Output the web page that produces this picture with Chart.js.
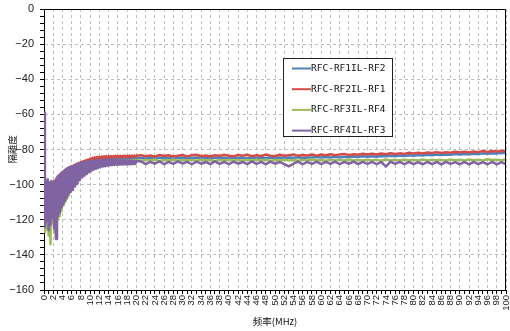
<!DOCTYPE html>
<html>
<head>
<meta charset="utf-8">
<script src="https://cdn.jsdelivr.net/npm/chart.js@4.4.0/dist/chart.umd.min.js"></script>
<style>
  body { margin: 0; background: #fff; }
</style>
</head>
<body>
<canvas id="graph" width="510" height="331"></canvas>
<script>
// frequency points (MHz), dense at the low end
const freq = [
  0, 0.2, 0.4, 0.6, 0.8, 1, 1.2, 1.4, 1.6, 1.8, 2, 2.2, 2.4, 2.6, 2.8, 3, 3.2, 3.4, 3.6, 3.8,
  4, 4.2, 4.4, 4.6, 4.8, 5, 5.2, 5.4, 5.6, 5.8, 6,
  6.25, 6.5, 6.75, 7, 7.25, 7.5, 7.75, 8, 8.25, 8.5, 8.75, 9, 9.25, 9.5, 9.75, 10,
  10.25, 10.5, 10.75, 11, 11.25, 11.5, 11.75, 12, 12.25, 12.5, 12.75, 13,
  13.25, 13.5, 13.75, 14, 14.25, 14.5, 14.75, 15, 15.25, 15.5, 15.75, 16,
  16.25, 16.5, 16.75, 17, 17.25, 17.5, 17.75, 18, 18.25, 18.5, 18.75, 19, 19.25, 19.5, 19.75, 20,
  21, 22, 23, 24, 25, 26, 27, 28, 29, 30,
  31, 32, 33, 34, 35, 36, 37, 38, 39, 40,
  41, 42, 43, 44, 45, 46, 47, 48, 49, 50,
  51, 52, 53, 54, 55, 56, 57, 58, 59, 60,
  61, 62, 63, 64, 65, 66, 67, 68, 69, 70,
  71, 72, 73, 74, 75, 76, 77, 78, 79, 80,
  81, 82, 83, 84, 85, 86, 87, 88, 89, 90,
  91, 92, 93, 94, 95, 96, 97, 98, 99, 100
];

// RFC-RF1IL-RF2
const rf1 = [
  -105, -118, -101, -116, -103, -120, -100, -117, -102, -114, -100, -112, -99, -110, -98, -107, -96, -104, -95, -101,
  -93, -99, -92, -97, -91, -95, -90.5, -93.5, -90, -92.5, -89.5,
  -92, -90, -91, -89.2, -90, -88.6, -89.2, -88.0, -88.6, -87.5, -88.0, -87.1, -87.5, -86.7, -87.1, -86.4,
  -86.8, -86.1, -86.5, -85.9, -86.3, -85.7, -86.1, -85.6, -85.9, -85.5, -85.8, -85.4,
  -85.7, -85.3, -85.7, -85.3, -85.6, -85.2, -85.6, -85.2, -85.5, -85.1, -85.5, -85.1,
  -85.4, -85.0, -85.4, -85.0, -85.4, -85.0, -85.3, -84.9, -85.3, -84.9, -85.3, -84.9, -85.2, -84.8, -85.2, -84.8,
  -84.7, -85.1, -84.8, -85.2, -84.6, -85.0, -84.7, -85.2, -84.8, -84.6,
  -85.1, -84.8, -84.6, -85.0, -84.7, -85.1, -84.6, -84.9, -84.7, -85.0,
  -84.6, -84.9, -84.7, -85.0, -84.6, -84.8, -84.5, -84.9, -84.6, -84.8,
  -84.5, -84.8, -84.5, -84.7, -84.4, -84.8, -84.5, -84.6, -84.3, -84.6,
  -84.3, -84.6, -84.2, -84.5, -84.1, -84.4, -84.0, -84.3, -83.9, -84.1,
  -83.8, -84.1, -83.7, -83.9, -83.5, -83.8, -83.4, -83.7, -83.3, -83.5,
  -83.2, -83.4, -83.0, -83.3, -82.9, -83.1, -82.8, -83.0, -82.6, -82.8,
  -82.5, -82.7, -82.4, -82.6, -82.2, -82.4, -82.1, -82.3, -81.9, -82.1
];

// RFC-RF2IL-RF1
const rf2 = [
  -127, -100, -112, -98.5, -110, -99, -115, -98.5, -109, -99, -113, -98, -108, -97, -106, -95.2, -103, -94.2, -100, -93.2,
  -98, -92.5, -96, -91.6, -95, -91, -93, -90.3, -92, -89.8, -91,
  -90.5, -88.8, -90, -88.2, -89.4, -87.6, -88.6, -87.1, -88.0, -86.6, -87.4, -86.1, -86.9, -85.7, -86.4, -85.2,
  -86.0, -84.8, -85.6, -84.5, -85.3, -84.3, -85.1, -84.1, -84.9, -84.0, -84.8, -83.9,
  -84.7, -83.8, -84.6, -83.8, -84.6, -83.7, -84.5, -83.7, -84.5, -83.6, -84.4, -83.7,
  -84.4, -83.6, -84.4, -83.6, -84.3, -83.5, -84.3, -83.6, -84.3, -83.5, -84.2, -83.5, -84.2, -83.4, -84.2, -83.5,
  -83.2, -83.9, -83.4, -84.1, -83.1, -83.7, -83.3, -84.0, -83.5, -83.1,
  -83.9, -83.3, -83.0, -83.8, -83.4, -84.0, -83.2, -83.7, -83.0, -83.6,
  -83.9, -83.1, -83.5, -83.0, -83.8, -83.3, -83.7, -82.9, -83.5, -83.8,
  -83.0, -83.6, -83.2, -82.8, -83.6, -83.1, -83.4, -82.8, -83.5, -82.9,
  -83.3, -82.7, -83.2, -82.9, -82.5, -83.2, -82.7, -83.0, -82.4, -82.9,
  -82.4, -82.9, -82.3, -82.7, -82.1, -82.6, -82.2, -82.5, -81.9, -82.3,
  -81.8, -82.3, -81.7, -82.0, -81.5, -82.0, -81.6, -81.9, -81.3, -81.7,
  -81.2, -81.7, -81.1, -81.5, -80.9, -81.4, -80.9, -81.2, -80.7, -81.0
];

// RFC-RF3IL-RF4
const rf3 = [
  -98, -127, -101, -125, -99, -129, -103, -134, -100, -122, -104, -127, -100, -130, -99, -120, -97, -118, -96, -115,
  -95, -112, -94, -110, -93.5, -108, -93, -106, -92.5, -104, -92,
  -101, -92, -99.5, -91, -98, -90.2, -96.5, -89.5, -95, -89, -94, -88.5, -93, -88.1, -92.2, -87.8,
  -91.4, -87.5, -90.8, -87.3, -90.3, -87.1, -89.8, -86.9, -89.4, -86.8, -89.0, -86.7,
  -88.7, -86.6, -88.4, -86.5, -88.1, -86.4, -87.8, -86.4, -87.6, -86.3, -87.4, -86.3,
  -87.2, -86.2, -87.1, -86.2, -87.0, -86.2, -86.9, -86.1, -86.8, -86.1, -86.7, -86.1, -86.6, -86.0, -86.6, -86.0,
  -86.4, -85.9, -86.3, -85.8, -86.5, -86.0, -86.2, -85.8, -86.4, -86.0,
  -86.3, -85.9, -86.4, -85.8, -86.2, -86.0, -86.5, -85.9, -86.3, -85.8,
  -86.2, -86.0, -86.4, -85.8, -86.3, -85.9, -86.2, -85.8, -86.4, -86.0,
  -86.3, -85.8, -86.2, -86.0, -86.4, -85.9, -86.3, -85.7, -86.2, -86.0,
  -86.4, -85.8, -86.2, -85.9, -86.3, -85.7, -86.2, -86.0, -86.3, -85.8,
  -86.2, -85.9, -86.4, -85.7, -86.2, -85.9, -86.3, -85.8, -86.1, -85.9,
  -86.3, -85.7, -86.2, -85.8, -86.1, -85.9, -86.3, -85.7, -86.1, -85.8,
  -86.2, -85.7, -86.1, -85.8, -86.2, -85.6, -86.0, -85.8, -86.1, -85.7
];

// RFC-RF4IL-RF3
const rf4 = [
  -59, -124, -98, -121, -97, -126, -99, -123, -98, -119, -99, -125, -98, -131, -96, -118, -94.8, -116, -94, -113,
  -93, -111, -92.2, -109, -91.4, -107, -90.8, -105, -90.2, -104, -89.6,
  -103, -89.2, -101, -88.6, -99.5, -88.0, -97.5, -87.6, -96, -87.3, -95, -87.0, -94, -86.8, -93, -86.5,
  -92.2, -86.4, -91.5, -86.3, -91, -86.2, -90.5, -86.1, -90.1, -86.1, -89.7, -86.0,
  -89.5, -86.0, -89.2, -86.0, -89.0, -86.0, -88.9, -86.0, -88.8, -86.1, -88.7, -86.0,
  -88.6, -86.1, -88.6, -86.1, -88.5, -86.2, -88.5, -86.2, -88.4, -86.3, -88.4, -86.3, -88.3, -86.4, -88.3, -86.5,
  -86.8, -88.3, -87.0, -88.1, -86.7, -88.4, -87.1, -88.2, -86.8, -88.0,
  -87.0, -88.4, -86.9, -88.1, -87.1, -88.3, -86.8, -88.2, -87.0, -88.4,
  -86.9, -88.1, -87.1, -88.3, -86.8, -88.2, -87.0, -88.4, -86.9, -88.1,
  -87.1, -88.3, -89.6, -88.1, -86.9, -88.4, -87.0, -88.2, -86.9, -88.3,
  -87.1, -88.2, -86.9, -88.4, -87.0, -88.1, -86.9, -88.3, -87.1, -88.2,
  -87.0, -88.4, -87.1, -89.7, -86.9, -88.2, -87.0, -88.4, -87.1, -88.3,
  -87.2, -88.4, -87.0, -88.3, -87.1, -88.5, -87.0, -88.2, -87.2, -88.4,
  -87.1, -88.5, -87.0, -88.3, -87.2, -88.4, -87.1, -88.5, -87.2, -88.3
];

const seriesNames = ['RFC-RF1IL-RF2', 'RFC-RF2IL-RF1', 'RFC-RF3IL-RF4', 'RFC-RF4IL-RF3'];
const yTitle = '隔離度';
const xTitle = '频率(MHz)';

function toPoints(vals) {
  return freq.map((f, i) => ({ x: f, y: vals[i] }));
}

// legend box drawn inside the plot, like the original
const boxLegend = {
  id: 'boxLegend',
  afterDraw(chart) {
    const ctx = chart.ctx;
    const area = chart.chartArea;
    const bx = 283, by = 58, bw = 109, bh = 78;
    ctx.save();
    // top and right border of the plot
    ctx.strokeStyle = '#000';
    ctx.lineWidth = 1;
    ctx.beginPath();
    ctx.moveTo(Math.round(area.left) + 0.5, Math.round(area.top) + 0.5);
    ctx.lineTo(Math.round(area.right) - 0.5, Math.round(area.top) + 0.5);
    ctx.lineTo(Math.round(area.right) - 0.5, Math.round(area.bottom));
    ctx.stroke();

    ctx.fillStyle = '#fff';
    ctx.fillRect(bx, by, bw, bh);
    ctx.strokeStyle = '#222';
    ctx.strokeRect(bx + 0.5, by + 0.5, bw, bh);
    ctx.font = '9.5px "DejaVu Sans Mono"';
    ctx.textBaseline = 'middle';
    ctx.textAlign = 'left';
    chart.data.datasets.forEach((ds, i) => {
      const y = by + 10.5 + i * 20.7;
      ctx.strokeStyle = ds.borderColor;
      ctx.lineWidth = 2;
      ctx.beginPath();
      ctx.moveTo(bx + 9, y);
      ctx.lineTo(bx + 28, y);
      ctx.stroke();
      ctx.fillStyle = '#111';
      ctx.fillText(ds.label, bx + 28, y);
    });
    ctx.restore();
  }
};

const ctx = document.getElementById('graph').getContext('2d');

const myChart = new Chart(ctx, {
  type: 'line',
  data: {
    datasets: [
      { label: seriesNames[0], data: toPoints(rf1), borderColor: '#4F81BD', order: 3 },
      { label: seriesNames[1], data: toPoints(rf2), borderColor: '#D24B47', order: 2 },
      { label: seriesNames[2], data: toPoints(rf3), borderColor: '#9BBB59', order: 1 },
      { label: seriesNames[3], data: toPoints(rf4), borderColor: '#8064A2', order: 0 }
    ]
  },
  options: {
    responsive: false,
    animation: false,
    layout: { padding: { top: 9, right: 4, left: 0, bottom: 0 } },
    elements: {
      point: { radius: 0 },
      line: { borderWidth: 2.5, tension: 0, fill: false, borderJoinStyle: 'round' }
    },
    plugins: {
      legend: { display: false },
      tooltip: { enabled: false }
    },
    scales: {
      x: {
        type: 'linear',
        min: 0,
        max: 100,
        afterFit: s => {
          s.height = 41;
          s.paddingLeft = 0;
          s.paddingRight = 0;
        },
        ticks: {
          stepSize: 1,
          autoSkip: false,
          minRotation: 90,
          maxRotation: 90,
          padding: 1,
          color: '#222',
          font: { family: 'Liberation Sans', size: 9.5 },
          callback: v => (v % 2 === 0 ? String(v) : '')
        },
        grid: {
          color: c => (c.tick && c.tick.value % 2 === 0 ? '#bdbdbd' : 'rgba(0,0,0,0)'),
          tickColor: '#000',
          tickLength: 4
        },
        border: { color: '#000', dash: [3, 3] },
        title: {
          display: true,
          text: xTitle,
          color: '#111',
          font: { family: 'Noto Sans CJK SC', size: 9.5 },
          padding: { top: 0, bottom: 4 }
        }
      },
      y: {
        min: -160,
        max: 0,
        afterFit: s => {
          s.width = 44;
          s.paddingTop = 0;
          s.paddingBottom = 0;
        },
        ticks: {
          stepSize: 4,
          autoSkip: false,
          padding: 6,
          color: '#222',
          font: { family: 'Liberation Sans', size: 11 },
          callback: v => (v % 20 === 0 ? (v < 0 ? '\u2212' + (-v) : String(v)) : '')
        },
        grid: {
          color: c => (c.tick && c.tick.value % 20 === 0 ? '#bdbdbd' : 'rgba(0,0,0,0)'),
          tickColor: '#000',
          tickLength: 4
        },
        border: { color: '#000', dash: [3, 3] },
        title: {
          display: true,
          text: yTitle,
          color: '#111',
          font: { family: 'Noto Sans CJK SC', size: 9.5 },
          padding: { top: 7, bottom: 0 }
        }
      }
    }
  },
  plugins: [boxLegend]
});
</script>
</body>
</html>
